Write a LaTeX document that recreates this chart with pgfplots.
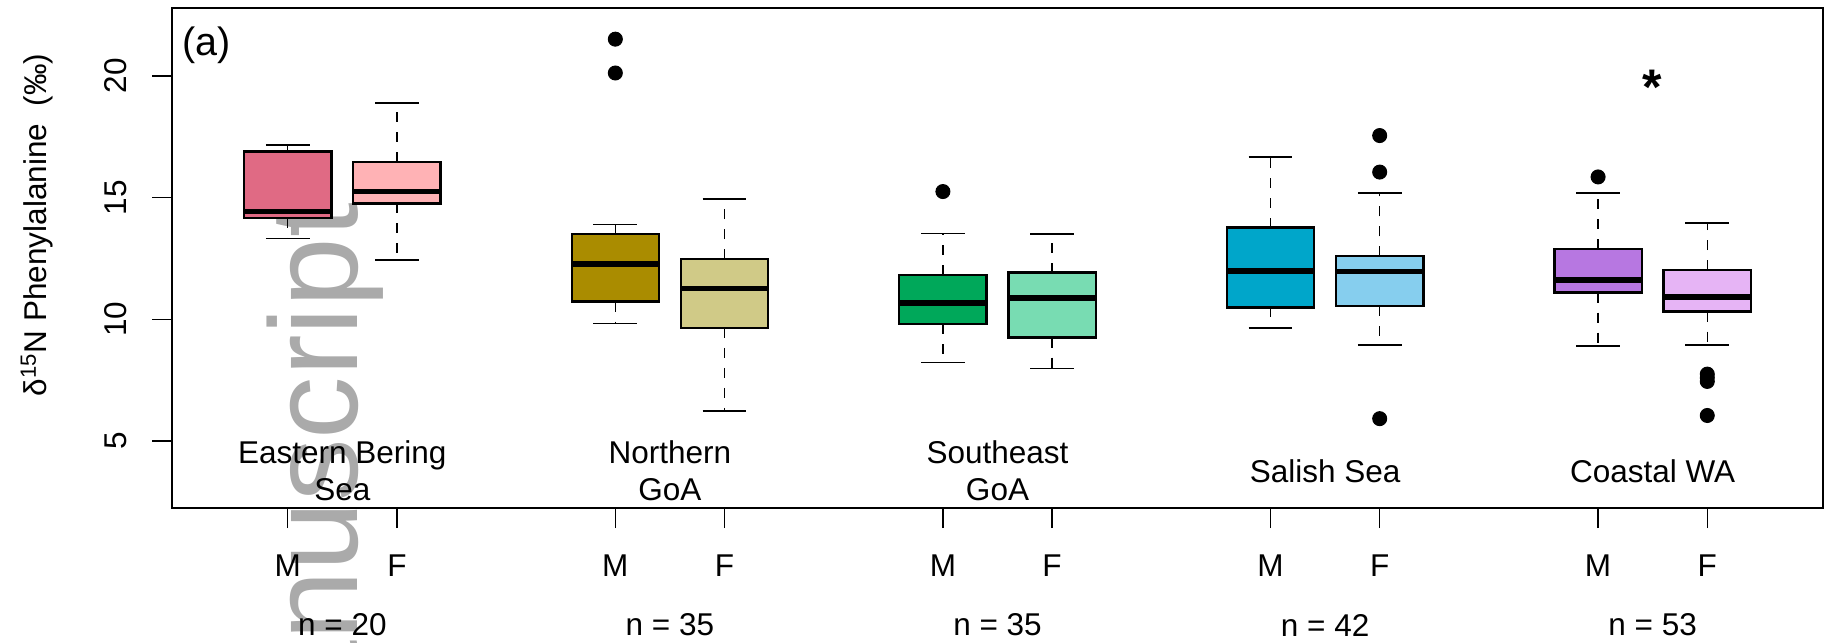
\documentclass[border=0pt]{standalone}
\usepackage{pgfplots}
\pgfplotsset{compat=1.18}
\usepgfplotslibrary{statistics}
\usepackage{fontspec}
\setmainfont{Liberation Sans}

\definecolor{ebsM}{RGB}{224,106,132}
\definecolor{ebsF}{RGB}{255,178,181}
\definecolor{ngM}{RGB}{170,140,0}
\definecolor{ngF}{RGB}{208,202,135}
\definecolor{seM}{RGB}{0,168,90}
\definecolor{seF}{RGB}{120,220,178}
\definecolor{ssM}{RGB}{0,166,202}
\definecolor{ssF}{RGB}{134,206,238}
\definecolor{waM}{RGB}{183,119,225}
\definecolor{waF}{RGB}{230,180,245}
\definecolor{wmgray}{RGB}{170,170,170}

\pgfplotsset{
  /pgfplots/boxplot/draw/lower whisker/.code={%
    \draw[black, line width=0.6pt, dash pattern=on 4pt off 4pt]
      (boxplot cs:\pgfplotsboxplotvalue{lower quartile}) -- (boxplot cs:\pgfplotsboxplotvalue{lower whisker});
    \draw[black, line width=0.6pt, solid]
      (boxplot whisker cs:\pgfplotsboxplotvalue{lower whisker},0) -- (boxplot whisker cs:\pgfplotsboxplotvalue{lower whisker},1);
  },
  /pgfplots/boxplot/draw/upper whisker/.code={%
    \draw[black, line width=0.6pt, dash pattern=on 4pt off 4pt]
      (boxplot cs:\pgfplotsboxplotvalue{upper quartile}) -- (boxplot cs:\pgfplotsboxplotvalue{upper whisker});
    \draw[black, line width=0.6pt, solid]
      (boxplot whisker cs:\pgfplotsboxplotvalue{upper whisker},0) -- (boxplot whisker cs:\pgfplotsboxplotvalue{upper whisker},1);
  },
  bx/.style={boxplot prepared={box extend=0.8, whisker extend=0.4,
      every box/.style={draw=black, fill=#1, line width=0.9pt},
      every median/.style={black, line width=2.2pt}},
    mark=*, mark size=2.8pt, mark options={black, fill=black, solid}},
}

\begin{document}
\begin{tikzpicture}[font=\fontsize{12.6}{14.8}\selectfont]
\path[use as bounding box] (0,0) rectangle (732.4pt,256.8pt);
% watermark
\node[rotate=90, anchor=base east, inner sep=0pt, text=wmgray,
      font=\fontsize{50}{60}\selectfont] at (142.8pt,175.8pt) {manuscript};
% y label
\node[rotate=90, anchor=center] at (14.8pt,166.8pt)
  {δ\textsuperscript{15}N Phenylalanine\ \ (‰)};
\begin{axis}[
  at={(68.8pt,53.6pt)}, anchor=south west, scale only axis,
  width=660.4pt, height=199.9pt,
  xmin=-0.06, xmax=15.06, ymin=2.25, ymax=22.78, clip=false,
  boxplot/draw direction=y,
  axis line style={line width=0.8pt},
  tick pos=left, tick align=outside, major tick length=8pt,
  tick style={black, line width=0.6pt},
  xtick={1,2,4,5,7,8,10,11,13,14},
  xticklabels={M,F,M,F,M,F,M,F,M,F},
  ytick={5,10,15,20},
  /pgf/number format/assume math mode=true,
  xticklabel style={anchor=north, inner sep=0pt},
  yticklabel style={rotate=90, anchor=base, inner sep=0pt},
  xticklabel shift=10.4pt, yticklabel shift=10.3pt,
]
% Eastern Bering Sea
\addplot[bx=ebsM, boxplot prepared={draw position=1, lower whisker=13.33, lower quartile=14.17, median=14.42, upper quartile=16.89, upper whisker=17.16}] coordinates {};
\addplot[bx=ebsF, boxplot prepared={draw position=2, lower whisker=12.44, lower quartile=14.76, median=15.25, upper quartile=16.47, upper whisker=18.89}] coordinates {};
% Northern GoA
\addplot[bx=ngM, boxplot prepared={draw position=4, lower whisker=9.82, lower quartile=10.73, median=12.27, upper quartile=13.52, upper whisker=13.90}] coordinates {(0,21.51) (0,20.12)};
\addplot[bx=ngF, boxplot prepared={draw position=5, lower whisker=6.24, lower quartile=9.65, median=11.27, upper quartile=12.47, upper whisker=14.94}] coordinates {};
% Southeast GoA
\addplot[bx=seM, boxplot prepared={draw position=7, lower whisker=8.23, lower quartile=9.80, median=10.68, upper quartile=11.83, upper whisker=13.52}] coordinates {(0,15.25)};
\addplot[bx=seF, boxplot prepared={draw position=8, lower whisker=7.99, lower quartile=9.25, median=10.88, upper quartile=11.92, upper whisker=13.50}] coordinates {};
% Salish Sea
\addplot[bx=ssM, boxplot prepared={draw position=10, lower whisker=9.64, lower quartile=10.49, median=11.99, upper quartile=13.77, upper whisker=16.66}] coordinates {};
\addplot[bx=ssF, boxplot prepared={draw position=11, lower whisker=8.95, lower quartile=10.54, median=11.96, upper quartile=12.59, upper whisker=15.18}] coordinates {(0,17.55) (0,16.05) (0,5.92)};
% Coastal WA
\addplot[bx=waM, boxplot prepared={draw position=13, lower whisker=8.90, lower quartile=11.10, median=11.62, upper quartile=12.89, upper whisker=15.20}] coordinates {(0,15.85)};
\addplot[bx=waF, boxplot prepared={draw position=14, lower whisker=8.95, lower quartile=10.32, median=10.91, upper quartile=12.02, upper whisker=13.95}] coordinates {(0,7.75) (0,7.60) (0,7.45) (0,6.05)};

% region labels
\node[align=center] at (axis cs:1.5,3.77) {Eastern Bering\\Sea};
\node[align=center] at (axis cs:4.5,3.77) {Northern\\GoA};
\node[align=center] at (axis cs:7.5,3.77) {Southeast\\GoA};
\node[align=center] at (axis cs:10.5,3.77) {Salish Sea};
\node[align=center] at (axis cs:13.5,3.77) {Coastal WA};
% sample sizes
\node at (axis cs:1.5,-2.56) {n = 20};
\node at (axis cs:4.5,-2.56) {n = 35};
\node at (axis cs:7.5,-2.56) {n = 35};
\node at (axis cs:10.5,-2.56) {n = 42};
\node at (axis cs:13.5,-2.56) {n = 53};
% panel letter and asterisk
\node[font=\fontsize{15.8}{18}\selectfont] at (axis cs:0.255,21.26) {(a)};
\node[font=\bfseries\fontsize{20}{22}\selectfont] at (axis cs:13.5,19.55) {*};
\end{axis}
\end{tikzpicture}
\end{document}
